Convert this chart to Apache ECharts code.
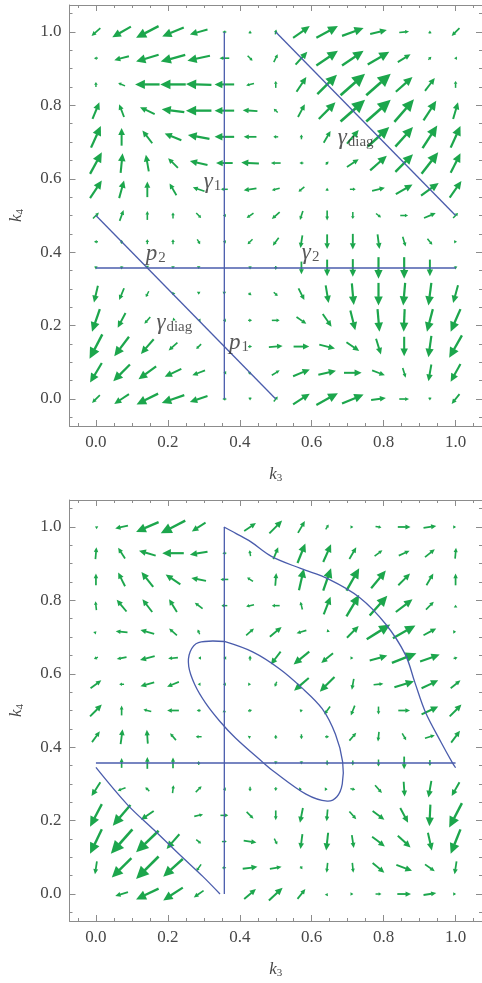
<!DOCTYPE html>
<html>
<head>
<meta charset="utf-8">
<script src="https://cdn.jsdelivr.net/npm/echarts@6/dist/echarts.min.js"></script>
<style>
  html, body { margin: 0; padding: 0; background: #ffffff; }
  #chart { width: 482px; height: 983px; }
</style>
</head>
<body>
<div id="chart"></div>
<script>
// Sample positions of the vector field along k3 and k4 (15 per side).
const samplePositions = [0, 0.0714, 0.1429, 0.2143, 0.2857, 0.3571, 0.4286, 0.5,
  0.5714, 0.6429, 0.7143, 0.7857, 0.8571, 0.9286, 1.0];

// Axis ticks
const majorTicks = [0, 0.2, 0.4, 0.6, 0.8, 1.0];
const minorTicks = [-0.05, 0.05, 0.1, 0.15, 0.25, 0.3, 0.35, 0.45, 0.5, 0.55,
  0.65, 0.7, 0.75, 0.85, 0.9, 0.95, 1.05];

// Upper panel field: rows from k4 = 1 (first) down to k4 = 0 (last),
// each entry [u, v] = drawn arrow components (v pointing up).
const upperField = [
  [[-9,-8],[-19,-11],[-23,-12],[-22,-9],[-18,-5],[-4,0],[0,3],[1,5],[17,12],[22,12],[22,8],[17,4],[10,1],[0,3],[-8,-8]],
  [[-4,0],[-15,-4],[-23,-7],[-25,-7],[-23,-5],[-10,0],[5,-5],[4,8],[12,13],[22,15],[22,15],[22,13],[13,8],[3,3],[-3,0]],
  [[0,5],[-7,3],[-25,0],[-26,0],[-26,1],[-20,0],[-8,-2],[0,7],[10,15],[20,20],[25,22],[25,22],[17,15],[10,13],[0,7]],
  [[7,17],[-5,13],[-15,7],[-23,3],[-26,0],[-20,0],[-15,1],[-4,4],[7,13],[17,17],[25,22],[25,22],[20,23],[13,20],[5,17]],
  [[10,22],[0,18],[-10,13],[-17,7],[-22,4],[-20,0],[-13,0],[-5,0],[0,5],[7,12],[12,14],[22,20],[18,20],[15,23],[10,22]],
  [[12,22],[2,20],[-3,17],[-10,10],[-18,4],[-17,0],[-18,1],[-10,0],[-4,0],[3,3],[12,8],[17,15],[18,18],[17,22],[10,20]],
  [[12,18],[5,18],[0,16],[-7,12],[-12,4],[-7,0],[-13,-2],[-8,-2],[-6,-5],[0,3],[6,0],[13,3],[17,10],[18,13],[12,17]],
  [[6,6],[4,11],[0,9],[0,6],[5,-5],[-3,0],[-7,-5],[-8,-7],[-3,-9],[0,-10],[0,-7],[5,-4],[8,0],[12,5],[5,5]],
  [[-4,0],[0,4],[0,5],[0,5],[3,-5],[-3,0],[-5,-5],[-6,-8],[-2,-13],[0,-15],[0,-16],[2,-15],[3,-10],[5,-6],[3,0]],
  [[0,-3],[0,-3],[0,-1],[0,-2],[0,-2],[0,0],[0,-3],[0,-4],[0,-13],[0,-17],[0,-18],[0,-22],[0,-22],[0,-17],[0,-3]],
  [[-4,-17],[-5,-12],[-3,-6],[-1,-2],[0,-1],[0,-1],[3,-2],[4,-4],[6,-12],[3,-18],[2,-22],[0,-23],[-2,-23],[-3,-23],[-5,-18]],
  [[-8,-23],[-8,-15],[-6,-7],[-1,-1],[-2,0],[-3,0],[4,0],[8,0],[10,-7],[9,-13],[5,-20],[2,-23],[-1,-23],[-6,-23],[-10,-23]],
  [[-13,-25],[-15,-20],[-13,-15],[-9,-8],[-5,-5],[0,0],[4,0],[14,1],[16,0],[16,-4],[13,-9],[5,-16],[0,-20],[-3,-22],[-13,-23]],
  [[-12,-20],[-17,-17],[-18,-13],[-17,-8],[-13,-5],[-2,0],[2,2],[8,5],[17,7],[18,4],[18,0],[13,-5],[3,-10],[-3,-17],[-10,-18]],
  [[-8,-8],[-15,-10],[-22,-11],[-23,-8],[-18,-6],[-4,0],[0,-3],[4,5],[17,11],[22,12],[22,9],[15,2],[10,0],[0,-3],[-8,-10]]
];

// Lower panel field, same layout.
const lowerField = [
  [[-2,1],[-13,-3],[-23,-10],[-25,-13],[-14,-9],[0,0],[12,8],[13,13],[7,12],[3,5],[1,0],[6,-1],[13,0],[13,2],[1,0]],
  [[1,12],[-7,11],[-17,5],[-22,0],[-18,-3],[-4,0],[-1,6],[5,12],[8,20],[8,18],[7,12],[8,6],[11,5],[10,8],[1,11]],
  [[0,12],[-7,14],[-12,15],[-15,10],[-15,3],[-8,0],[-6,4],[1,13],[5,22],[8,23],[13,23],[15,18],[12,12],[7,12],[0,12]],
  [[-1,9],[-10,12],[-10,13],[-8,13],[-8,6],[-6,0],[-8,-2],[-8,0],[-2,8],[7,18],[13,22],[18,20],[17,13],[8,8],[0,2]],
  [[1,1],[-12,1],[-14,4],[-8,7],[-2,5],[0,0],[8,7],[12,10],[-10,-3],[-1,-1],[12,12],[24,15],[23,13],[13,7],[1,0]],
  [[-4,-2],[-10,-2],[-15,-4],[-10,-1],[-1,0],[-2,0],[0,5],[-10,-13],[-16,-13],[-12,-10],[1,0],[18,5],[25,10],[20,7],[4,1]],
  [[11,8],[-5,0],[-14,-4],[-12,-5],[-2,0],[-3,0],[2,0],[-2,-5],[-15,-13],[-15,-15],[-2,-11],[10,1],[20,6],[17,8],[10,8]],
  [[12,12],[0,10],[-8,2],[-12,0],[-4,0],[0,2],[4,1],[0,0],[3,1],[-6,-8],[-4,-10],[0,-8],[12,0],[17,8],[12,12]],
  [[8,11],[2,15],[-1,14],[-6,7],[-6,0],[0,0],[2,1],[0,4],[0,-5],[4,0],[7,8],[-1,-10],[4,-7],[10,3],[9,12]],
  [[0,0],[0,10],[0,12],[0,11],[0,4],[0,0],[0,0],[0,-3],[0,-3],[0,-5],[0,-5],[0,-7],[0,-13],[0,-6],[0,0]],
  [[-9,-14],[-8,-3],[-4,4],[1,8],[6,6],[-3,0],[0,-5],[0,-4],[1,0],[1,0],[5,-1],[7,-8],[1,-15],[-3,-17],[-8,-14]],
  [[-12,-23],[-18,-21],[-13,-9],[0,0],[9,2],[8,0],[7,-7],[0,-10],[-3,-15],[-1,-12],[7,-8],[12,-9],[8,-15],[-1,-22],[-13,-25]],
  [[-12,-25],[-22,-25],[-23,-22],[-13,-15],[5,-4],[5,0],[13,-2],[3,-6],[-2,-15],[-2,-18],[2,-13],[13,-10],[13,-12],[4,-18],[-10,-25]],
  [[-2,-13],[-20,-20],[-23,-23],[-20,-18],[-5,-7],[4,0],[15,2],[12,2],[2,-3],[-1,-10],[1,-10],[12,-10],[16,-6],[10,-7],[-2,-13]],
  [[0,0],[-13,-4],[-23,-11],[-20,-13],[-10,-7],[0,0],[12,10],[14,13],[8,10],[1,2],[1,0],[6,0],[14,0],[13,2],[1,0]]
];

// Upper panel curves
const upperGamma1 = [[0.357, 0], [0.357, 1]];
const upperGamma2 = [[0, 0.357], [1, 0.357]];
const upperDiagLow = [[0, 0.5], [0.5, 0]];
const upperDiagHigh = [[0.5, 1], [1, 0.5]];

// Lower panel curves
const lowerVertical = [[0.357, 0], [0.357, 1]];
const lowerHorizontal = [[0, 0.357], [1, 0.357]];
const lowerCornerCurve = [[0, 0.345], [0.088, 0.243], [0.161, 0.175], [0.233, 0.107], [0.297, 0.048], [0.345, 0]];
const lowerOuterCurve = [[0.356, 1.0], [0.39, 0.982], [0.43, 0.96], [0.488, 0.92], [0.569, 0.887], [0.647, 0.858],
  [0.733, 0.808], [0.806, 0.735], [0.86, 0.653], [0.887, 0.576], [0.916, 0.496], [0.96, 0.413], [0.991, 0.358], [1.0, 0.344]];
const lowerLoop = [[0.357, 0.688], [0.437, 0.659], [0.51, 0.614], [0.569, 0.565], [0.629, 0.505], [0.666, 0.435],
  [0.686, 0.36], [0.685, 0.3], [0.67, 0.265], [0.643, 0.253], [0.584, 0.272], [0.493, 0.335], [0.465, 0.358],
  [0.388, 0.425], [0.345, 0.47], [0.305, 0.52], [0.275, 0.57], [0.258, 0.62], [0.262, 0.66], [0.285, 0.685],
  [0.357, 0.688]];

// Curve annotations in the upper panel: [k3, k4, symbol, subscript]
const upperAnnotations = [
  [0.324, 0.592, 'γ', '1'],
  [0.722, 0.712, 'γ', 'diag'],
  [0.166, 0.396, 'p', '2'],
  [0.597, 0.399, 'γ', '2'],
  [0.218, 0.208, 'γ', 'diag'],
  [0.398, 0.154, 'p', '1']
];

const arrowColor = '#1ca64c';
const curveColor = '#4a5cac';
const frameColor = '#8c8c8c';
const labelColor = '#474747';
const serif = 'Liberation Serif';
const axisMin = -0.0735, axisMax = 1.0735;

function fieldData(rows) {
  const out = [];
  rows.forEach((row, r) => {
    row.forEach((vec, c) => {
      out.push([samplePositions[c], samplePositions[14 - r], vec[0], vec[1]]);
    });
  });
  return out;
}

function renderArrow(params, api) {
  const c = api.coord([api.value(0), api.value(1)]);
  const s = api.size([1, 1])[0] / 367;
  const u = api.value(2) * s, v = -api.value(3) * s;
  const L = Math.hypot(u, v);
  if (L < 0.5) return null;
  const ux = u / L, uy = v / L;
  const tail = [c[0] - u / 2, c[1] - v / 2];
  const tip = [c[0] + u / 2, c[1] + v / 2];
  const hl = Math.max(2.8, 0.4 * L);
  const hw = Math.max(1.8, 0.19 * L);
  const base = [tip[0] - ux * hl, tip[1] - uy * hl];
  const left = [base[0] - uy * hw, base[1] + ux * hw];
  const right = [base[0] + uy * hw, base[1] - ux * hw];
  return {
    type: 'group',
    children: [
      { type: 'line', shape: { x1: tail[0], y1: tail[1], x2: base[0] + ux * 0.5, y2: base[1] + uy * 0.5 },
        style: { stroke: arrowColor, lineWidth: 1.2 + 0.045 * L } },
      { type: 'polygon', shape: { points: [tip, left, right] }, style: { fill: arrowColor } }
    ]
  };
}

// Smooth path through a list of [k3, k4] points, placed with the grid's scales.
function curveSeries(points, axisIdx) {
  return {
    type: 'custom', xAxisIndex: axisIdx, yAxisIndex: axisIdx, data: points,
    encode: { x: 0, y: 1 }, clip: false, silent: true, z: 3,
    renderItem: (params, api) => {
      if (params.dataIndex !== 0) return null;
      const pts = points.map(p => api.coord(p));
      return {
        type: 'polyline',
        shape: { points: pts, smooth: pts.length > 2 ? 0.35 : 0 },
        style: { stroke: curveColor, lineWidth: 1.3, fill: null }
      };
    }
  };
}

const nameRich = {
  k: { fontFamily: serif, fontStyle: 'italic', fontSize: 17, color: labelColor },
  s: { fontFamily: serif, fontSize: 11, color: labelColor, padding: [7, 0, 0, 0] }
};

function axesFor(g) {
  const common = { gridIndex: g, type: 'value', min: axisMin, max: axisMax, splitLine: { show: false } };
  const majorTick = { inside: true, length: 6, customValues: majorTicks, lineStyle: { color: frameColor, width: 1 } };
  const minorTick = { inside: true, length: 3, customValues: minorTicks, lineStyle: { color: frameColor, width: 1 } };
  const line = { show: true, onZero: false, lineStyle: { color: frameColor, width: 1 } };
  const noLine = { show: false, onZero: false };
  const label = {
    customValues: majorTicks, formatter: v => v.toFixed(1),
    color: labelColor, fontFamily: serif, fontSize: 17, margin: 8
  };
  const x = [
    Object.assign({}, common, { position: 'bottom', axisLine: line, axisTick: majorTick, axisLabel: label,
      name: '{k|k}{s|3}', nameLocation: 'middle', nameGap: 40, nameTextStyle: { rich: nameRich } }),
    Object.assign({}, common, { position: 'bottom', axisLine: noLine, axisTick: minorTick, axisLabel: { show: false } }),
    Object.assign({}, common, { position: 'top', axisLine: line, axisTick: majorTick, axisLabel: { show: false } }),
    Object.assign({}, common, { position: 'top', axisLine: noLine, axisTick: minorTick, axisLabel: { show: false } })
  ];
  const y = [
    Object.assign({}, common, { position: 'left', axisLine: line, axisTick: majorTick,
      axisLabel: Object.assign({}, label, { margin: 8 }),
      name: '{k|k}{s|4}', nameLocation: 'middle', nameGap: 44, nameRotate: 90, nameTextStyle: { rich: nameRich } }),
    Object.assign({}, common, { position: 'left', axisLine: noLine, axisTick: minorTick, axisLabel: { show: false } }),
    Object.assign({}, common, { position: 'right', axisLine: line, axisTick: majorTick, axisLabel: { show: false } }),
    Object.assign({}, common, { position: 'right', axisLine: noLine, axisTick: minorTick, axisLabel: { show: false } })
  ];
  return { x, y };
}

const a0 = axesFor(0), a1 = axesFor(1);

const option = {
  animation: false,
  backgroundColor: '#ffffff',
  grid: [
    { left: 64, top: 5, width: 421, height: 421 },
    { left: 64, top: 500, width: 421, height: 421 }
  ],
  xAxis: a0.x.concat(a1.x),
  yAxis: a0.y.concat(a1.y),
  series: [
    curveSeries(upperGamma1, 0), curveSeries(upperGamma2, 0),
    curveSeries(upperDiagLow, 0), curveSeries(upperDiagHigh, 0),
    curveSeries(lowerVertical, 4), curveSeries(lowerHorizontal, 4),
    curveSeries(lowerCornerCurve, 4), curveSeries(lowerOuterCurve, 4), curveSeries(lowerLoop, 4),
    {
      type: 'custom', xAxisIndex: 0, yAxisIndex: 0, data: fieldData(upperField),
      renderItem: renderArrow, encode: { x: 0, y: 1 }, clip: false, silent: true, z: 2
    },
    {
      type: 'custom', xAxisIndex: 4, yAxisIndex: 4, data: fieldData(lowerField),
      renderItem: renderArrow, encode: { x: 0, y: 1 }, clip: false, silent: true, z: 2
    },
    {
      type: 'scatter', xAxisIndex: 0, yAxisIndex: 0, symbolSize: 0, silent: true, z: 5,
      data: upperAnnotations.map(a => ({ value: [a[0], a[1]], sym: a[2], sub: a[3] })),
      label: {
        show: true, position: 'inside',
        formatter: p => '{g|' + p.data.sym + '}{s|' + p.data.sub + '}',
        rich: {
          g: { fontFamily: serif, fontStyle: 'italic', fontSize: 23, color: '#2e2e2e' },
          s: { fontFamily: serif, fontSize: 15, color: '#2e2e2e', padding: [9, 0, 0, 1] }
        }
      }
    }
  ]
};

const chart = echarts.init(document.getElementById('chart'), null, { renderer: 'canvas' });
chart.setOption(option);
</script>
</body>
</html>
